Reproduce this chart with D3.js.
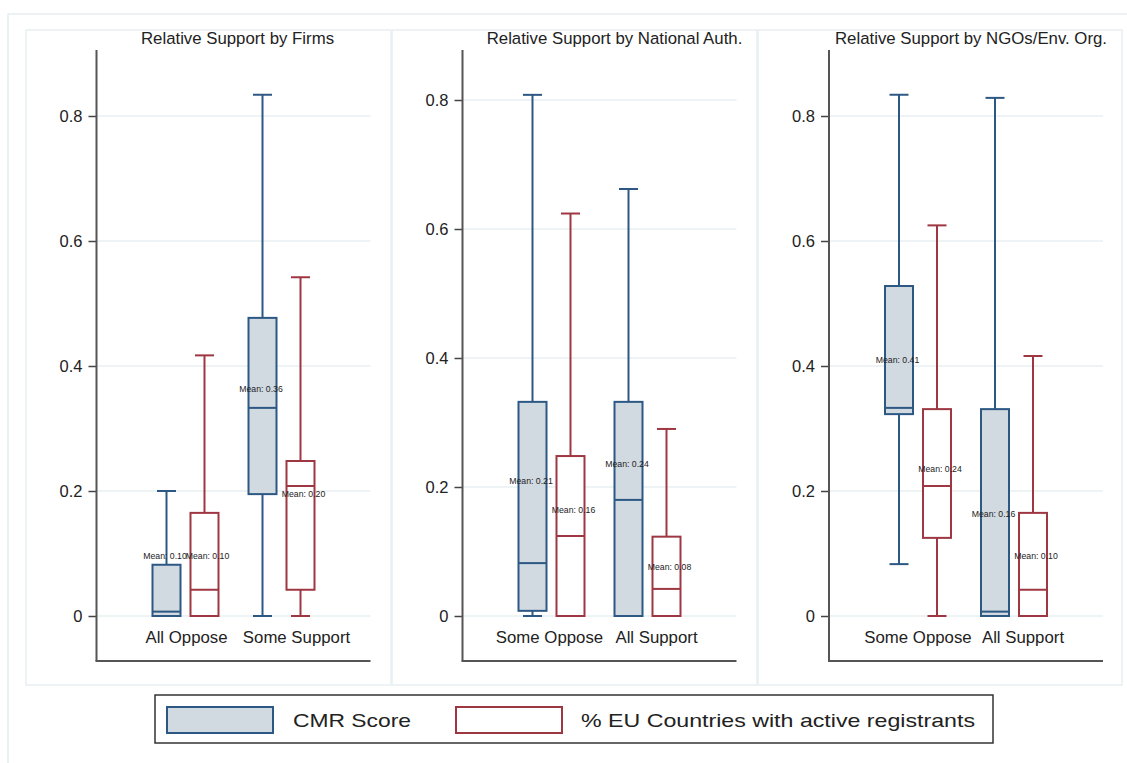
<!DOCTYPE html>
<html>
<head>
<meta charset="utf-8">
<script src="https://cdn.jsdelivr.net/npm/d3@7"></script>
<style>
  body { margin: 0; background: #fff; }
  text { font-family: "Liberation Sans", Arial, sans-serif; fill: #222; }
</style>
</head>
<body>
<svg id="chart" width="1127" height="763"></svg>
<script>
// chart values
const panelTitles = ['Relative Support by Firms', 'Relative Support by National Auth.', 'Relative Support by NGOs/Env. Org.'];
const groupLabels = [['All Oppose', 'Some Support'], ['Some Oppose', 'All Support'], ['Some Oppose', 'All Support']];
const seriesNames = ['CMR Score', '% EU Countries with active registrants'];
const yTicks = [0, 0.2, 0.4, 0.6, 0.8];
const yTickLabels = ['0', '0.2', '0.4', '0.6', '0.8'];

// [lower whisker, q1, median, q3, upper whisker] per panel, per group
const cmrStats = [
  [[0, 0, 0.007, 0.082, 0.2], [0, 0.195, 0.333, 0.477, 0.834]],
  [[0, 0.008, 0.082, 0.332, 0.808], [0, 0, 0.18, 0.332, 0.662]],
  [[0.083, 0.323, 0.333, 0.528, 0.834], [0, 0, 0.007, 0.331, 0.829]],
];
const euStats = [
  [[0, 0, 0.042, 0.165, 0.417], [0, 0.042, 0.208, 0.248, 0.542]],
  [[0, 0, 0.124, 0.248, 0.624], [0, 0, 0.042, 0.123, 0.29]],
  [[0, 0.125, 0.208, 0.331, 0.625], [0, 0, 0.042, 0.165, 0.416]],
];
const cmrMeans = [[0.096, 0.363], [0.209, 0.236], [0.41, 0.164]];
const euMeans = [[0.096, 0.196], [0.164, 0.076], [0.236, 0.096]];

// layout
const panels = [
  {left: 26, right: 391, axisX: 96.5, yTop: 116, titleDx: 4, catDx: [1, 15]},
  {left: 392, right: 757, axisX: 462.5, yTop: 100, titleDx: 15, catDx: [-2, 9]},
  {left: 758, right: 1122, axisX: 829, yTop: 116, titleDx: 5, catDx: [0, 9]},
];
const plotW = 274, yZero = 616, axisTop = 50, axisBottom = 661;
const colors = {cmr: '#2c5883', cmrFill: '#d1d9e1', eu: '#9e3742', euFill: '#ffffff'};
const meanDx = [-1.5, 3];

const svg = d3.select('#chart');

// outer frame
svg.append('rect')
  .attr('x', 8).attr('y', 14).attr('width', 1130).attr('height', 760)
  .attr('fill', 'none').attr('stroke', '#e6edf0').attr('stroke-width', 1.5);

panels.forEach((p, pi) => {
  svg.append('rect')
    .attr('x', p.left).attr('y', 30).attr('width', p.right - p.left).attr('height', 655)
    .attr('fill', '#fff').attr('stroke', '#e8eff2').attr('stroke-width', 1.5);

  const g = svg.append('g');

  const y = d3.scaleLinear().domain([0, 0.8]).range([yZero, p.yTop]);
  const x = d3.scalePoint().domain(groupLabels[pi]).range([p.axisX, p.axisX + plotW]).padding(0.927);
  const inner = d3.scaleBand().domain([0, 1]).range([-33, 33]).paddingInner(0.263);
  const bw = inner.bandwidth();
  const capW = 19;

  // gridlines
  g.selectAll('.grid')
    .data(yTicks)
    .enter()
    .append('line')
    .attr('x1', p.axisX).attr('x2', p.axisX + plotW)
    .attr('y1', d => y(d)).attr('y2', d => y(d))
    .attr('stroke', '#e9f0f2').attr('stroke-width', 1.5);

  // y axis
  const ax = g.append('g')
    .attr('transform', `translate(${p.axisX},0)`)
    .call(d3.axisLeft(y).tickValues(yTicks).tickFormat((d, i) => yTickLabels[i]).tickSize(8).tickPadding(6));
  ax.select('.domain').remove();
  ax.selectAll('.tick line').attr('stroke', '#444').attr('stroke-width', 1.5);
  ax.selectAll('.tick text').attr('font-size', 16.5).attr('fill', '#222')
    .style('font-family', '"Liberation Sans", Arial, sans-serif');

  g.append('line')
    .attr('x1', p.axisX).attr('x2', p.axisX)
    .attr('y1', axisTop).attr('y2', axisBottom)
    .attr('stroke', '#555').attr('stroke-width', 2);
  g.append('line')
    .attr('x1', p.axisX - 1).attr('x2', p.axisX + plotW)
    .attr('y1', axisBottom).attr('y2', axisBottom)
    .attr('stroke', '#555').attr('stroke-width', 2);

  // title
  g.append('text')
    .attr('x', p.axisX + plotW / 2 + p.titleDx).attr('y', 44)
    .attr('text-anchor', 'middle').attr('font-size', 16.8)
    .text(panelTitles[pi]);

  // group labels
  g.selectAll('.cat')
    .data(groupLabels[pi])
    .enter()
    .append('text')
    .attr('x', (d, i) => x(d) + p.catDx[i]).attr('y', 643)
    .attr('text-anchor', 'middle').attr('font-size', 16.8)
    .text(d => d);

  const series = [
    {stats: cmrStats[pi], means: cmrMeans[pi], stroke: colors.cmr, fill: colors.cmrFill},
    {stats: euStats[pi], means: euMeans[pi], stroke: colors.eu, fill: colors.euFill},
  ];

  series.forEach((s, si) => {
    const boxes = groupLabels[pi].map((grp, gi) => ({
      cx: x(grp) + inner(si) + bw / 2,
      lo: s.stats[gi][0], q1: s.stats[gi][1], med: s.stats[gi][2],
      q3: s.stats[gi][3], hi: s.stats[gi][4], mean: s.means[gi],
    }));

    const bg = g.selectAll(null).data(boxes).enter().append('g');

    // whiskers
    bg.append('line')
      .attr('x1', d => d.cx).attr('x2', d => d.cx)
      .attr('y1', d => y(d.hi)).attr('y2', d => y(d.q3))
      .attr('stroke', s.stroke).attr('stroke-width', 2);
    bg.append('line')
      .attr('x1', d => d.cx).attr('x2', d => d.cx)
      .attr('y1', d => y(d.q1)).attr('y2', d => y(d.lo))
      .attr('stroke', s.stroke).attr('stroke-width', 2);
    bg.append('line')
      .attr('x1', d => d.cx - capW / 2).attr('x2', d => d.cx + capW / 2)
      .attr('y1', d => y(d.hi)).attr('y2', d => y(d.hi))
      .attr('stroke', s.stroke).attr('stroke-width', 2);
    bg.append('line')
      .attr('x1', d => d.cx - capW / 2).attr('x2', d => d.cx + capW / 2)
      .attr('y1', d => y(d.lo)).attr('y2', d => y(d.lo))
      .attr('stroke', s.stroke).attr('stroke-width', 2);

    // box
    bg.append('rect')
      .attr('x', d => d.cx - bw / 2).attr('width', bw)
      .attr('y', d => y(d.q3)).attr('height', d => y(d.q1) - y(d.q3))
      .attr('fill', s.fill).attr('stroke', s.stroke).attr('stroke-width', 2);
    bg.append('line')
      .attr('x1', d => d.cx - bw / 2).attr('x2', d => d.cx + bw / 2)
      .attr('y1', d => y(d.med)).attr('y2', d => y(d.med))
      .attr('stroke', s.stroke).attr('stroke-width', 2);

    // mean labels
    bg.append('text')
      .attr('x', d => d.cx + meanDx[si]).attr('y', d => y(d.mean))
      .attr('text-anchor', 'middle').attr('dominant-baseline', 'central')
      .attr('font-size', 8.7)
      .attr('fill', '#111')
      .text(d => 'Mean: ' + d3.format('.2f')(d.mean));
  });
});

// legend
const legend = svg.append('g');
legend.append('rect')
  .attr('x', 155).attr('y', 695).attr('width', 838).attr('height', 48)
  .attr('fill', '#fff').attr('stroke', '#333').attr('stroke-width', 1.5);

const legendItems = [
  {name: seriesNames[0], stroke: colors.cmr, fill: colors.cmrFill, sx: 167, tx: 293, tw: 118},
  {name: seriesNames[1], stroke: colors.eu, fill: colors.euFill, sx: 456, tx: 581, tw: 394},
];
legend.selectAll('.sw')
  .data(legendItems)
  .enter()
  .append('rect')
  .attr('x', d => d.sx).attr('y', 707).attr('width', 106).attr('height', 26)
  .attr('fill', d => d.fill).attr('stroke', d => d.stroke).attr('stroke-width', 2);
legend.selectAll('.lt')
  .data(legendItems)
  .enter()
  .append('text')
  .attr('x', d => d.tx).attr('y', 727)
  .attr('font-size', 19)
  .attr('textLength', d => d.tw).attr('lengthAdjust', 'spacingAndGlyphs')
  .text(d => d.name);
</script>
</body>
</html>
